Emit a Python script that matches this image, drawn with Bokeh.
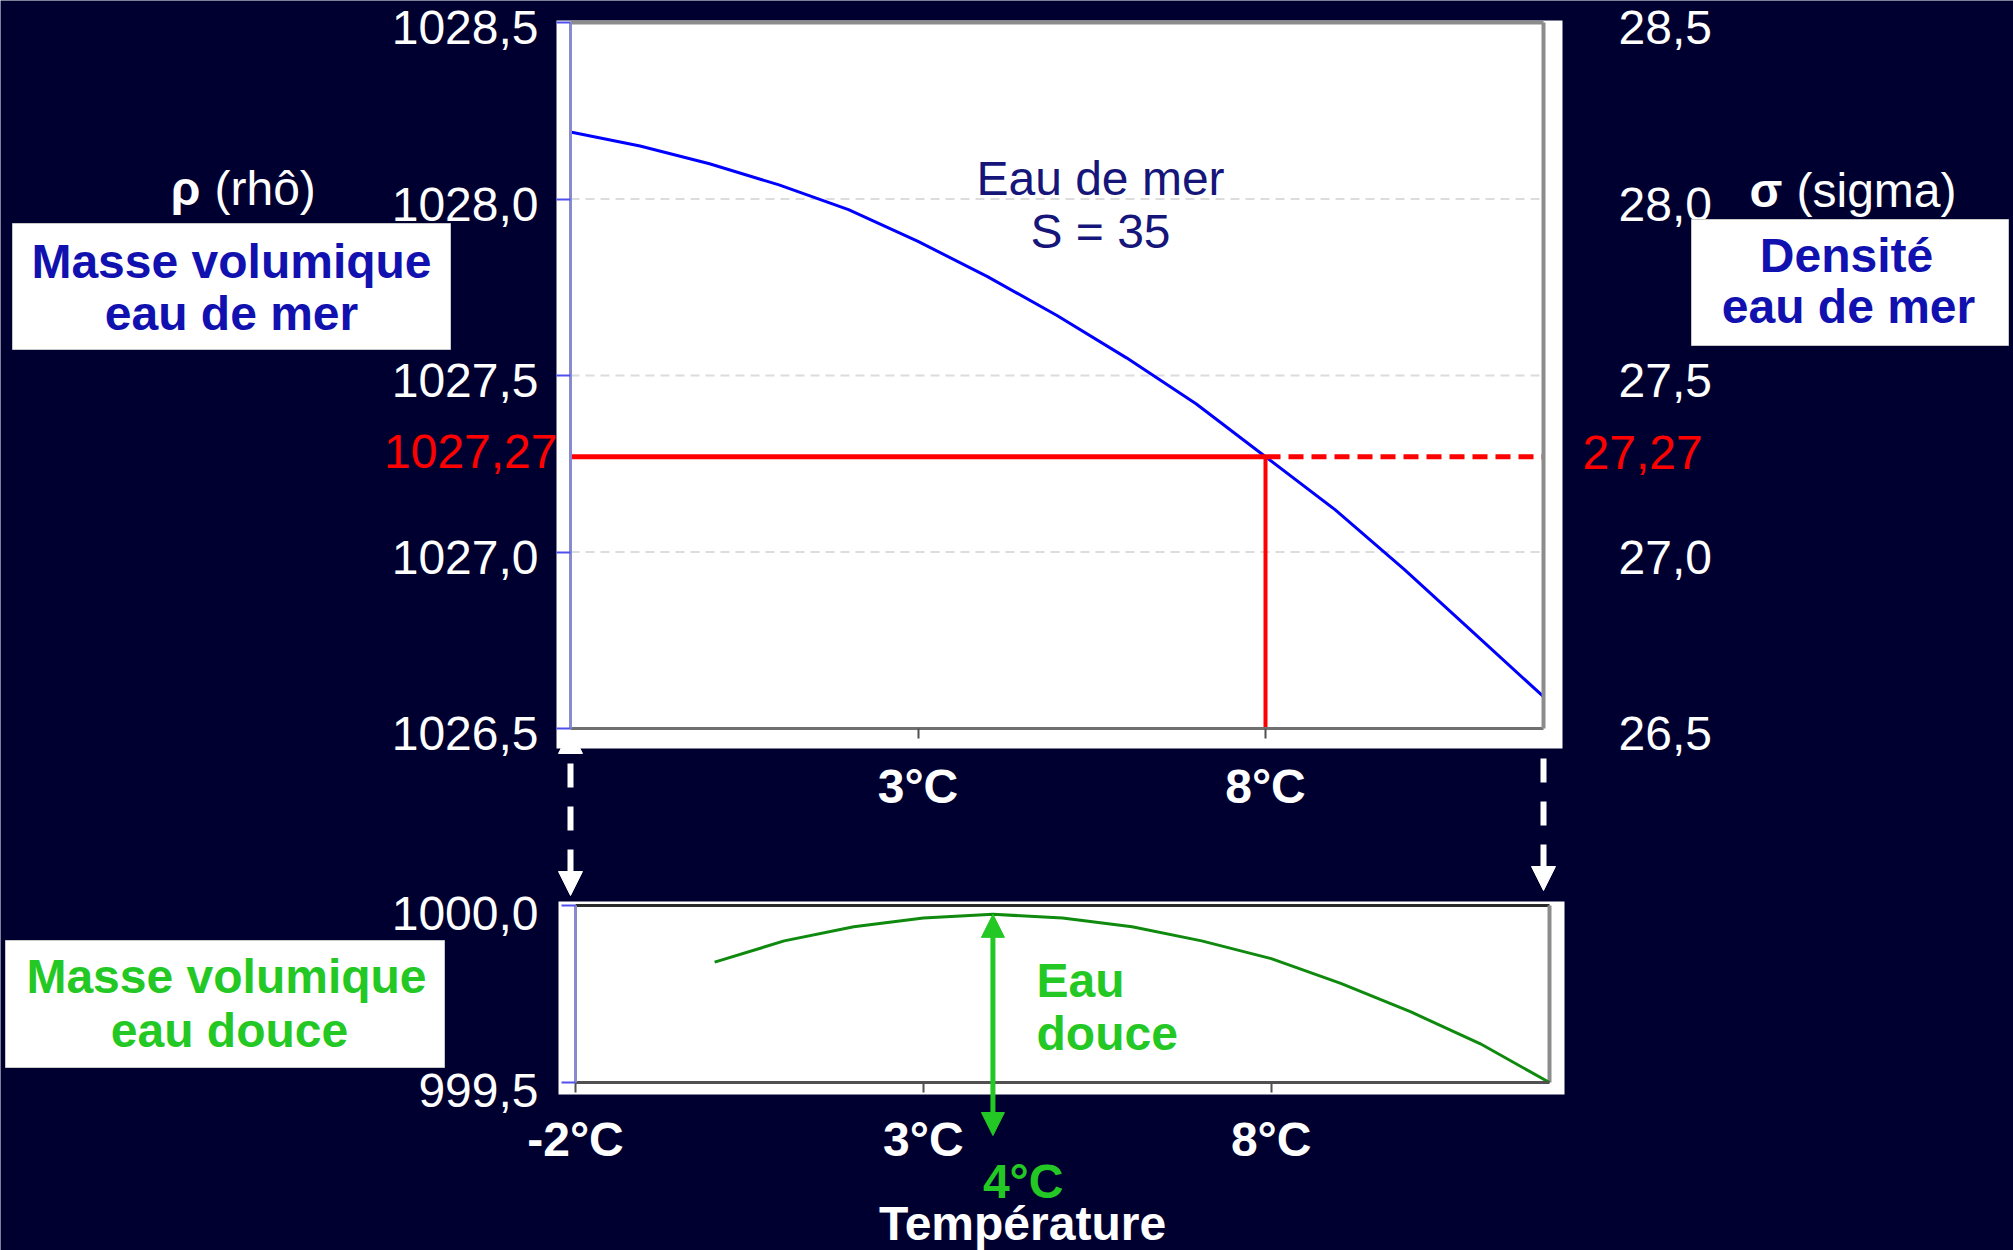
from bokeh.plotting import figure
from bokeh.models import (Range1d, LinearAxis, FixedTicker, CustomJSTickFormatter,
                          Arrow, NormalHead)
from bokeh.embed import file_html
from bokeh.resources import INLINE
from bokeh.core.properties import value

# ---------------- data ----------------
temps_sea = [-2, -1, 0, 1, 2, 3, 4, 5, 6, 7, 8, 9, 10, 11, 12]
rho_sea = [1028.19, 1028.15, 1028.10, 1028.04, 1027.97, 1027.88, 1027.78, 1027.67,
           1027.55, 1027.42, 1027.27, 1027.12, 1026.95, 1026.77, 1026.59]
temps_fresh = [0, 1, 2, 3, 4, 5, 6, 7, 8, 9, 10, 11, 12]
rho_fresh = [999.84, 999.90, 999.94, 999.965, 999.975, 999.965, 999.94, 999.90,
             999.85, 999.78, 999.70, 999.61, 999.50]
rho_ticks = [1026.5, 1027.0, 1027.5, 1028.0, 1028.5]
sigma_ticks = [26.5, 27.0, 27.5, 28.0, 28.5]
fresh_ticks = [999.5, 1000.0]
top_temp_ticks = [3, 8]
bottom_temp_ticks = [-2, 3, 8]
t_mark = 8
rho_mark = 1027.27
sigma_mark = 27.27
t_max_fresh = 4
salinity = 35

# ---------------- layout (page pixels) ----------------
W, H = 2013, 1250
BG = "#000030"
FONT = value("Liberation Sans")
FS = "48px"
TOP = dict(left=570, right=1543, top=22, bottom=728)
BOT = dict(left=575, right=1549, top=905, bottom=1082)

t_min, t_max = temps_sea[0], temps_sea[-1]
rho_min, rho_max = rho_ticks[0], rho_ticks[-1]
fr_min, fr_max = fresh_ticks[0], fresh_ticks[-1]


def xrange_page(v_a, v_b, p_a, p_b):
    s = (v_b - v_a) / (p_b - p_a)
    return Range1d(start=v_a - p_a * s, end=v_a + (W - p_a) * s)


def yrange_page(v_a, v_b, p_a, p_b):
    s = (v_b - v_a) / (p_b - p_a)
    return Range1d(start=v_a + (H - p_a) * s, end=v_a - p_a * s)


def y_to_val(v_a, v_b, p_a, p_b, py):
    s = (v_b - v_a) / (p_b - p_a)
    return v_a + (py - p_a) * s


def comma(v, nd=1):
    return f"{v:.{nd}f}".replace(".", ",")


p = figure(width=W, height=H, x_range=Range1d(0, W), y_range=Range1d(H, 0),
           x_axis_type=None, y_axis_type=None, toolbar_location=None,
           output_backend="svg", min_border=0, title=None,
           outline_line_color=None, background_fill_color=BG, border_fill_color=BG)

p.extra_x_ranges = {
    "t_top": xrange_page(t_min, t_max, TOP["left"], TOP["right"]),
    "t_bot": xrange_page(t_min, t_max, BOT["left"], BOT["right"]),
}
p.extra_y_ranges = {
    "rho_top": yrange_page(rho_max, rho_min, TOP["top"], TOP["bottom"]),
    "sig_top": yrange_page(sigma_ticks[-1], sigma_ticks[0], TOP["top"], TOP["bottom"]),
    "rho_bot": yrange_page(fr_max, fr_min, BOT["top"], BOT["bottom"]),
}

blank_fmt = CustomJSTickFormatter(code="return '';")
deg_fmt = CustomJSTickFormatter(code="return tick.toFixed(0) + '\u00b0C';")

# white panels behind plots
p.quad(left=[556, 558], right=[1562, 1564], top=[20, 901], bottom=[748, 1094],
       fill_color="white", line_color=None)

# dashed arrows linking the two temperature axes (drawn under the panels)
left_arrow = Arrow(x_start=t_min, y_start=729, x_end=t_min, y_end=895,
                   x_range_name="t_top", line_color="white", line_width=6,
                   line_dash="24 19", line_dash_offset=9, level="underlay",
                   start=NormalHead(size=24, fill_color="white", line_color="white", line_width=1),
                   end=NormalHead(size=24, fill_color="white", line_color="white", line_width=1))
right_arrow = Arrow(x_start=t_max, y_start=758, x_end=t_max, y_end=890,
                    x_range_name="t_top", line_color="white", line_width=6,
                    line_dash="24 19", level="underlay", start=None,
                    end=NormalHead(size=24, fill_color="white", line_color="white", line_width=1))
p.add_layout(left_arrow)
p.add_layout(right_arrow)

# grid lines (top plot)
grid_vals = rho_ticks[1:-1]
p.segment(x0=[t_min] * len(grid_vals), y0=grid_vals, x1=[t_max] * len(grid_vals), y1=grid_vals,
          x_range_name="t_top", y_range_name="rho_top",
          line_color="#dcdcdc", line_width=2, line_dash="9 6")

# frame borders
p.segment(x0=[t_min], y0=[rho_max], x1=[t_max], y1=[rho_max],
          x_range_name="t_top", y_range_name="rho_top", line_color="#8c8c8c", line_width=4)
p.segment(x0=[t_min], y0=[fr_max], x1=[t_max], y1=[fr_max],
          x_range_name="t_bot", y_range_name="rho_bot", line_color="#2a2a2a", line_width=3)
p.segment(x0=[t_max], y0=[fr_min], x1=[t_max], y1=[fr_max],
          x_range_name="t_bot", y_range_name="rho_bot", line_color="#8c8c8c", line_width=4)

# curves
p.line(temps_sea, rho_sea, x_range_name="t_top", y_range_name="rho_top",
       line_color="#0000ff", line_width=3, line_join="round")
p.line(temps_fresh, rho_fresh, x_range_name="t_bot", y_range_name="rho_bot",
       line_color="#0f8a0f", line_width=3, line_join="round")

# red reading lines
p.segment(x0=[t_min], y0=[rho_mark], x1=[t_mark], y1=[rho_mark],
          x_range_name="t_top", y_range_name="rho_top", line_color="#ff0000", line_width=5)
p.segment(x0=[t_mark], y0=[rho_min], x1=[t_mark], y1=[rho_mark],
          x_range_name="t_top", y_range_name="rho_top", line_color="#ff0000", line_width=4)
p.segment(x0=[t_mark], y0=[rho_mark], x1=[t_max], y1=[rho_mark],
          x_range_name="t_top", y_range_name="rho_top", line_color="#ff0000",
          line_width=5, line_dash="15 8")

# ---------------- axes (lines + ticks) ----------------
def base_axis(ax):
    ax.minor_tick_line_color = None
    ax.major_tick_in = 0
    ax.major_label_text_font = "Liberation Sans"
    ax.major_label_text_font_size = FS
    ax.major_label_text_color = "white"


ax = LinearAxis(y_range_name="rho_top", fixed_location=TOP["left"], bounds=(rho_min, rho_max),
                ticker=FixedTicker(ticks=rho_ticks), formatter=blank_fmt)
base_axis(ax)
ax.axis_line_color = "#8a8ad0"; ax.axis_line_width = 3
ax.major_tick_line_color = "#5050ee"; ax.major_tick_line_width = 2
ax.major_tick_out = 14
p.add_layout(ax, "left")

ax = LinearAxis(y_range_name="sig_top", fixed_location=TOP["right"],
                bounds=(sigma_ticks[0], sigma_ticks[-1]),
                ticker=FixedTicker(ticks=sigma_ticks), formatter=blank_fmt)
base_axis(ax)
ax.axis_line_color = "#8c8c8c"; ax.axis_line_width = 4
ax.major_tick_line_color = None; ax.major_tick_out = 0
p.add_layout(ax, "right")

ax = LinearAxis(x_range_name="t_top", fixed_location=TOP["bottom"], bounds=(t_min, t_max),
                ticker=FixedTicker(ticks=top_temp_ticks), formatter=deg_fmt)
base_axis(ax)
ax.major_label_text_font_style = "bold"
ax.axis_line_color = "#707070"; ax.axis_line_width = 3
ax.major_tick_line_color = "#505050"; ax.major_tick_line_width = 2
ax.major_tick_out = 10; ax.major_label_standoff = 21
p.add_layout(ax, "below")

ax = LinearAxis(y_range_name="rho_bot", fixed_location=BOT["left"], bounds=(fr_min, fr_max),
                ticker=FixedTicker(ticks=fresh_ticks), formatter=blank_fmt)
base_axis(ax)
ax.axis_line_color = "#8a8ad0"; ax.axis_line_width = 3
ax.major_tick_line_color = "#5050ee"; ax.major_tick_line_width = 2
ax.major_tick_out = 14
p.add_layout(ax, "left")

ax = LinearAxis(x_range_name="t_bot", fixed_location=BOT["bottom"], bounds=(t_min, t_max),
                ticker=FixedTicker(ticks=bottom_temp_ticks), formatter=deg_fmt)
base_axis(ax)
ax.major_label_text_font_style = "bold"
ax.axis_line_color = "#505050"; ax.axis_line_width = 3
ax.major_tick_line_color = "#505050"; ax.major_tick_line_width = 2
ax.major_tick_out = 10; ax.major_label_standoff = 20
p.add_layout(ax, "below")

# vertical-axis tick labels (decimal comma)
LBL_RIGHT_EDGE = 538
p.text(x=[LBL_RIGHT_EDGE] * len(rho_ticks), y=rho_ticks, text=[comma(v) for v in rho_ticks],
       y_range_name="rho_top", text_font=FONT, text_font_size=FS, text_color="white",
       text_align="right", text_baseline="middle", y_offset=5)
p.text(x=[1618] * len(sigma_ticks), y=sigma_ticks, text=[comma(v) for v in sigma_ticks],
       y_range_name="sig_top", text_font=FONT, text_font_size=FS, text_color="white",
       text_align="left", text_baseline="middle", y_offset=5)
p.text(x=[LBL_RIGHT_EDGE] * len(fresh_ticks), y=fresh_ticks, text=[comma(v) for v in fresh_ticks],
       y_range_name="rho_bot", text_font=FONT, text_font_size=FS, text_color="white",
       text_align="right", text_baseline="middle", y_offset=8)

# red value labels
p.text(x=[557], y=[rho_mark], text=[comma(rho_mark, 2)],
       y_range_name="rho_top", text_font=FONT, text_font_size=FS,
       text_color="#ff0000", text_align="right", text_baseline="middle", y_offset=-5)
p.text(x=[1582], y=[sigma_mark], text=[comma(sigma_mark, 2)],
       y_range_name="sig_top", text_font=FONT, text_font_size=FS,
       text_color="#ff0000", text_align="left", text_baseline="middle", y_offset=-4)

# green max-density arrow
y_green_bottom = y_to_val(fr_max, fr_min, BOT["top"], BOT["bottom"], 1135)
green = "#24c824"
p.add_layout(Arrow(x_start=t_max_fresh, y_start=y_green_bottom, x_end=t_max_fresh,
                   y_end=max(rho_fresh), x_range_name="t_bot", y_range_name="rho_bot",
                   line_color=green, line_width=5,
                   start=NormalHead(size=23, fill_color=green, line_color=green, line_width=1),
                   end=NormalHead(size=23, fill_color=green, line_color=green, line_width=1)))
p.text(x=[t_max_fresh], y=[1181], text=[f"{t_max_fresh}\u00b0C"], x_range_name="t_bot",
       text_font=FONT, text_font_size=FS, text_font_style="bold",
       text_color=green, text_align="left", text_baseline="middle", x_offset=-10)

# ---------------- text decorations ----------------
def txt(x, y, s, color="white", bold=False, align="center"):
    p.text(x=[x], y=[y], text=[s], text_font=FONT, text_font_size=FS,
           text_font_style="bold" if bold else "normal", text_color=color,
           text_align=align, text_baseline="middle")


p.quad(left=[12, 1691, 5], right=[450, 2008, 444], top=[223, 219, 940],
       bottom=[349, 345, 1067], fill_color="white", line_color="#c8c8c8", line_width=1)

blue_txt = "#1111b0"
txt(231, 261, "Masse volumique", blue_txt, bold=True)
txt(231, 313, "eau de mer", blue_txt, bold=True)
txt(1846, 255, "Densité", blue_txt, bold=True)
txt(1848, 306, "eau de mer", blue_txt, bold=True)
txt(226, 976, "Masse volumique", green, bold=True)
txt(229, 1030, "eau douce", green, bold=True)

txt(200, 188, "\u03c1", bold=True, align="right")
txt(214, 188, "(rhô)", align="left")
txt(1749, 190, "\u03c3", bold=True, align="left")
txt(1796, 190, "(sigma)", align="left")

navy = "#15157a"
txt(1100, 178, "Eau de mer", navy)
txt(1100, 231, f"S = {salinity}", navy)

txt(1036, 980, "Eau", green, bold=True, align="left")
txt(1036, 1033, "douce", green, bold=True, align="left")

txt(1022, 1223, "Température", bold=True)

open("out.html", "w").write(file_html(p, INLINE))
